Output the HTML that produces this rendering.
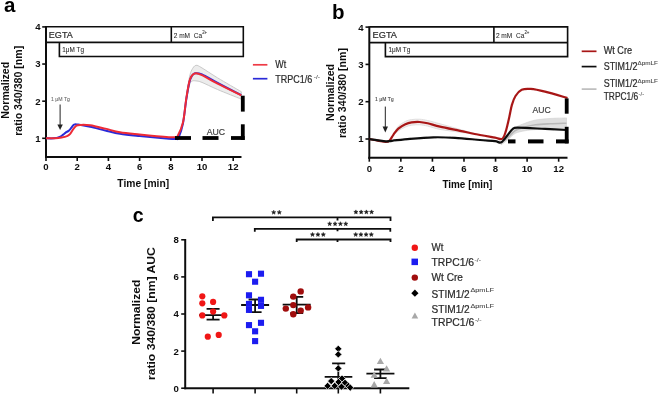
<!DOCTYPE html><html><head><meta charset="utf-8"><style>html,body{margin:0;padding:0;background:#fff;width:660px;height:394px;overflow:hidden}svg{display:block;will-change:transform}text{font-family:"Liberation Sans",sans-serif}</style></head><body>
<svg width="660" height="394" viewBox="0 0 660 394">
<defs><filter id="bl" x="0" y="0" width="660" height="394" filterUnits="userSpaceOnUse"><feGaussianBlur stdDeviation="0.3"/></filter></defs>
<rect width="660" height="394" fill="#fff"/>
<g filter="url(#bl)">
<line x1="46.0" y1="26.109999999999996" x2="46.0" y2="158.0" stroke="#111" stroke-width="2"/>
<line x1="45.0" y1="157.0" x2="241.5" y2="157.0" stroke="#111" stroke-width="2"/>
<line x1="42.2" y1="138.30" x2="46.0" y2="138.30" stroke="#111" stroke-width="1.6"/>
<text x="40.6" y="141.70" font-size="9.6" font-weight="bold" fill="#111" text-anchor="end" >1</text>
<line x1="42.2" y1="101.17" x2="46.0" y2="101.17" stroke="#111" stroke-width="1.6"/>
<text x="40.6" y="104.57" font-size="9.6" font-weight="bold" fill="#111" text-anchor="end" >2</text>
<line x1="42.2" y1="64.04" x2="46.0" y2="64.04" stroke="#111" stroke-width="1.6"/>
<text x="40.6" y="67.44" font-size="9.6" font-weight="bold" fill="#111" text-anchor="end" >3</text>
<line x1="42.2" y1="26.91" x2="46.0" y2="26.91" stroke="#111" stroke-width="1.6"/>
<text x="40.6" y="30.31" font-size="9.6" font-weight="bold" fill="#111" text-anchor="end" >4</text>
<line x1="46.00" y1="157.0" x2="46.00" y2="161.0" stroke="#111" stroke-width="1.6"/>
<text x="46.00" y="170.4" font-size="9.6" font-weight="bold" fill="#111" text-anchor="middle" >0</text>
<line x1="77.20" y1="157.0" x2="77.20" y2="161.0" stroke="#111" stroke-width="1.6"/>
<text x="77.20" y="170.4" font-size="9.6" font-weight="bold" fill="#111" text-anchor="middle" >2</text>
<line x1="108.40" y1="157.0" x2="108.40" y2="161.0" stroke="#111" stroke-width="1.6"/>
<text x="108.40" y="170.4" font-size="9.6" font-weight="bold" fill="#111" text-anchor="middle" >4</text>
<line x1="139.60" y1="157.0" x2="139.60" y2="161.0" stroke="#111" stroke-width="1.6"/>
<text x="139.60" y="170.4" font-size="9.6" font-weight="bold" fill="#111" text-anchor="middle" >6</text>
<line x1="170.80" y1="157.0" x2="170.80" y2="161.0" stroke="#111" stroke-width="1.6"/>
<text x="170.80" y="170.4" font-size="9.6" font-weight="bold" fill="#111" text-anchor="middle" >8</text>
<line x1="202.00" y1="157.0" x2="202.00" y2="161.0" stroke="#111" stroke-width="1.6"/>
<text x="202.00" y="170.4" font-size="9.6" font-weight="bold" fill="#111" text-anchor="middle" >10</text>
<line x1="233.20" y1="157.0" x2="233.20" y2="161.0" stroke="#111" stroke-width="1.6"/>
<text x="233.20" y="170.4" font-size="9.6" font-weight="bold" fill="#111" text-anchor="middle" >12</text>
<text x="117.3" y="186.8" font-size="10.3" font-weight="bold" fill="#111" text-anchor="start" textLength="51.8" lengthAdjust="spacingAndGlyphs" >Time [min]</text>
<text transform="translate(9.3,90.3) rotate(-90)" x="0" y="0" font-size="10.5" font-weight="bold" fill="#111" text-anchor="middle" textLength="57" lengthAdjust="spacingAndGlyphs">Normalized</text>
<text transform="translate(22.3,90.8) rotate(-90)" x="0" y="0" font-size="10.5" font-weight="bold" fill="#111" text-anchor="middle" textLength="90" lengthAdjust="spacingAndGlyphs">ratio 340/380 [nm]</text>
<text x="4.0" y="11.9" font-size="20.5" font-weight="bold" fill="#000" text-anchor="start" >a</text>
<path d="M46,26.8 H243.3 V42.4 H46 M171.3,26.8 V42.4 M59.4,42.4 V56.5 H243.3 V42.4" fill="none" stroke="#111" stroke-width="1.6"/>
<text x="48.8" y="38.3" font-size="9.6" font-weight="normal" fill="#2a2a2a" stroke="#2a2a2a" stroke-width="0.22" text-anchor="start" textLength="24" lengthAdjust="spacingAndGlyphs" >EGTA</text>
<text x="62.3" y="51.9" font-size="6.4" font-weight="normal" fill="#2a2a2a" stroke="#2a2a2a" stroke-width="0.08" text-anchor="start" textLength="21.7" lengthAdjust="spacingAndGlyphs" >1μM Tg</text>
<text x="173.7" y="38.0" font-size="7.6" font-weight="normal" fill="#2a2a2a" stroke="#2a2a2a" stroke-width="0.08" text-anchor="start" textLength="28.4" lengthAdjust="spacingAndGlyphs" >2 mM&#160;&#160;Ca</text>
<text x="202.2" y="34.0" font-size="4.6" font-weight="normal" fill="#2a2a2a" stroke="#2a2a2a" stroke-width="0.08" text-anchor="start" textLength="5" lengthAdjust="spacingAndGlyphs" >2+</text>
<text x="51.0" y="101.0" font-size="4.8" font-weight="normal" fill="#6a6a6a" stroke="#6a6a6a" stroke-width="0.08" text-anchor="start" textLength="19.0" lengthAdjust="spacingAndGlyphs" >1 μM Tg</text>
<line x1="60.1" y1="104.5" x2="60.1" y2="126" stroke="#222" stroke-width="1"/>
<path d="M57.4,124.4 L62.8,124.4 L60.1,130 Z" fill="#222"/>
<path d="M186.24,96.89 C186.76,93.67 188.43,82.10 189.36,77.59 C190.30,73.09 190.77,71.90 191.86,69.86 C192.95,67.82 194.23,65.67 195.92,65.35 C197.61,65.03 198.39,65.85 202.00,67.94 C205.61,70.03 211.05,73.92 217.60,77.88 C224.15,81.84 237.36,89.40 241.31,91.70 L241.31,99.13 C237.36,97.53 224.15,92.34 217.60,89.56 C211.05,86.77 205.61,83.86 202.00,82.42 C198.39,80.98 197.61,81.12 195.92,80.92 C194.23,80.72 192.95,80.46 191.86,81.24 C190.77,82.03 190.30,82.37 189.36,85.61 C188.43,88.86 186.76,98.19 186.24,100.70 Z" fill="#ececec" stroke="#c4c4c4" stroke-width="0.9"/>
<path d="M46.00,138.30 C47.30,138.30 51.51,138.55 53.80,138.30 C56.09,138.05 58.17,137.43 59.73,136.81 C61.29,136.20 62.12,135.33 63.16,134.59 C64.20,133.84 65.06,132.98 65.97,132.36 C66.88,131.74 67.74,131.62 68.62,130.87 C69.50,130.13 70.36,128.96 71.27,127.90 C72.18,126.85 72.96,125.12 74.08,124.56 C75.20,124.00 75.30,124.19 77.98,124.56 C80.66,124.93 85.60,125.80 90.15,126.79 C94.70,127.78 100.31,129.33 105.28,130.50 C110.25,131.68 114.22,132.92 119.94,133.84 C125.66,134.77 131.44,135.27 139.60,136.07 C147.76,136.88 162.82,138.18 168.93,138.67 C175.04,139.17 174.65,139.23 176.26,139.04 C177.87,138.86 177.48,140.16 178.60,137.56 C179.72,134.96 181.69,129.76 182.97,123.45 C184.24,117.14 185.18,106.55 186.24,99.68 C187.31,92.82 188.43,86.19 189.36,82.23 C190.30,78.27 190.92,77.41 191.86,75.92 C192.80,74.44 193.29,73.57 194.98,73.32 C196.67,73.07 198.23,72.83 202.00,74.44 C205.77,76.05 211.05,79.51 217.60,82.98 C224.15,86.44 237.36,93.19 241.31,95.23" fill="none" stroke="#2a2ad8" stroke-width="2.0" stroke-linejoin="round"/>
<path d="M46.00,138.30 C47.56,138.30 52.76,138.42 55.36,138.30 C57.96,138.18 59.65,137.93 61.60,137.56 C63.55,137.19 65.63,136.69 67.06,136.07 C68.49,135.45 69.14,135.02 70.18,133.84 C71.22,132.67 72.26,130.38 73.30,129.02 C74.34,127.66 75.25,126.36 76.42,125.68 C77.59,125.00 78.03,125.00 80.32,124.93 C82.61,124.87 85.99,124.69 90.15,125.30 C94.31,125.92 100.31,127.47 105.28,128.65 C110.25,129.82 114.22,131.37 119.94,132.36 C125.66,133.35 131.44,133.78 139.60,134.59 C147.76,135.39 162.95,136.78 168.93,137.19 C174.91,137.59 174.05,137.12 175.48,137.00 C176.91,136.88 176.26,138.86 177.51,136.44 C178.76,134.03 181.51,128.79 182.97,122.52 C184.42,116.24 185.18,105.61 186.24,98.79 C187.31,91.97 188.43,85.48 189.36,81.60 C190.30,77.73 190.77,76.96 191.86,75.55 C192.95,74.14 194.23,73.20 195.92,73.14 C197.61,73.07 198.39,73.42 202.00,75.18 C205.61,76.94 211.05,80.35 217.60,83.72 C224.15,87.09 237.36,93.47 241.31,95.41" fill="none" stroke="#ee2a36" stroke-width="2.0" stroke-linejoin="round"/>
<rect x="175" y="136.1" width="16" height="3.8" fill="#000"/>
<rect x="202.5" y="136.1" width="16.0" height="3.8" fill="#000"/>
<rect x="231" y="136.1" width="13.699999999999989" height="3.8" fill="#000"/>
<rect x="240.9" y="95.7" width="3.8" height="15.899999999999991" fill="#000"/>
<rect x="240.9" y="124.3" width="3.8" height="15.600000000000009" fill="#000"/>
<text x="206.8" y="135.4" font-size="9.4" font-weight="normal" fill="#444" stroke="#444" stroke-width="0.22" text-anchor="start" textLength="18.3" lengthAdjust="spacingAndGlyphs" >AUC</text>
<line x1="252.9" y1="64.8" x2="267.4" y2="64.8" stroke="#ee3a44" stroke-width="1.7"/>
<line x1="252.9" y1="78.7" x2="267.4" y2="78.7" stroke="#2a2ad8" stroke-width="1.7"/>
<text x="275.3" y="68.2" font-size="10.3" font-weight="normal" fill="#2a2a2a" stroke="#2a2a2a" stroke-width="0.22" text-anchor="start" textLength="10.9" lengthAdjust="spacingAndGlyphs" >Wt</text>
<text x="275.3" y="83.3" font-size="10.3" font-weight="normal" fill="#2a2a2a" stroke="#2a2a2a" stroke-width="0.22" text-anchor="start" textLength="37" lengthAdjust="spacingAndGlyphs" >TRPC1/6</text>
<text x="313.8" y="79.2" font-size="5" font-weight="normal" fill="#555" stroke="#555" stroke-width="0.08" text-anchor="start" textLength="6.2" lengthAdjust="spacingAndGlyphs" >-/-</text>
<line x1="369.3" y1="26.300000000000008" x2="369.3" y2="158.7" stroke="#111" stroke-width="2"/>
<line x1="368.3" y1="157.7" x2="567.5" y2="157.7" stroke="#111" stroke-width="2"/>
<line x1="365.5" y1="139.00" x2="369.3" y2="139.00" stroke="#111" stroke-width="1.6"/>
<text x="363.6" y="142.40" font-size="9.6" font-weight="bold" fill="#111" text-anchor="end" >1</text>
<line x1="365.5" y1="101.70" x2="369.3" y2="101.70" stroke="#111" stroke-width="1.6"/>
<text x="363.6" y="105.10" font-size="9.6" font-weight="bold" fill="#111" text-anchor="end" >2</text>
<line x1="365.5" y1="64.40" x2="369.3" y2="64.40" stroke="#111" stroke-width="1.6"/>
<text x="363.6" y="67.80" font-size="9.6" font-weight="bold" fill="#111" text-anchor="end" >3</text>
<line x1="365.5" y1="27.10" x2="369.3" y2="27.10" stroke="#111" stroke-width="1.6"/>
<text x="363.6" y="30.50" font-size="9.6" font-weight="bold" fill="#111" text-anchor="end" >4</text>
<line x1="369.30" y1="157.7" x2="369.30" y2="161.7" stroke="#111" stroke-width="1.6"/>
<text x="369.30" y="171.6" font-size="9.6" font-weight="bold" fill="#111" text-anchor="middle" >0</text>
<line x1="400.86" y1="157.7" x2="400.86" y2="161.7" stroke="#111" stroke-width="1.6"/>
<text x="400.86" y="171.6" font-size="9.6" font-weight="bold" fill="#111" text-anchor="middle" >2</text>
<line x1="432.42" y1="157.7" x2="432.42" y2="161.7" stroke="#111" stroke-width="1.6"/>
<text x="432.42" y="171.6" font-size="9.6" font-weight="bold" fill="#111" text-anchor="middle" >4</text>
<line x1="463.98" y1="157.7" x2="463.98" y2="161.7" stroke="#111" stroke-width="1.6"/>
<text x="463.98" y="171.6" font-size="9.6" font-weight="bold" fill="#111" text-anchor="middle" >6</text>
<line x1="495.54" y1="157.7" x2="495.54" y2="161.7" stroke="#111" stroke-width="1.6"/>
<text x="495.54" y="171.6" font-size="9.6" font-weight="bold" fill="#111" text-anchor="middle" >8</text>
<line x1="527.10" y1="157.7" x2="527.10" y2="161.7" stroke="#111" stroke-width="1.6"/>
<text x="527.10" y="171.6" font-size="9.6" font-weight="bold" fill="#111" text-anchor="middle" >10</text>
<line x1="558.66" y1="157.7" x2="558.66" y2="161.7" stroke="#111" stroke-width="1.6"/>
<text x="558.66" y="171.6" font-size="9.6" font-weight="bold" fill="#111" text-anchor="middle" >12</text>
<text x="442.4" y="188.4" font-size="10.3" font-weight="bold" fill="#111" text-anchor="start" textLength="50" lengthAdjust="spacingAndGlyphs" >Time [min]</text>
<text transform="translate(334.0,92.5) rotate(-90)" x="0" y="0" font-size="10.5" font-weight="bold" fill="#111" text-anchor="middle" textLength="57" lengthAdjust="spacingAndGlyphs">Normalized</text>
<text transform="translate(345.9,93.0) rotate(-90)" x="0" y="0" font-size="10.5" font-weight="bold" fill="#111" text-anchor="middle" textLength="90" lengthAdjust="spacingAndGlyphs">ratio 340/380 [nm]</text>
<text x="332.0" y="19.0" font-size="20.5" font-weight="bold" fill="#000" text-anchor="start" >b</text>
<path d="M369.4,26.9 H567.6 V42.6 H369.4 M493.9,26.9 V42.6 M385.4,42.6 V56.6 H567.6 V42.6" fill="none" stroke="#111" stroke-width="1.6"/>
<text x="372.6" y="38.1" font-size="9.6" font-weight="normal" fill="#2a2a2a" stroke="#2a2a2a" stroke-width="0.22" text-anchor="start" textLength="24.4" lengthAdjust="spacingAndGlyphs" >EGTA</text>
<text x="388.5" y="52.0" font-size="6.4" font-weight="normal" fill="#2a2a2a" stroke="#2a2a2a" stroke-width="0.08" text-anchor="start" textLength="21.7" lengthAdjust="spacingAndGlyphs" >1μM Tg</text>
<text x="495.9" y="37.8" font-size="7.6" font-weight="normal" fill="#2a2a2a" stroke="#2a2a2a" stroke-width="0.08" text-anchor="start" textLength="28.4" lengthAdjust="spacingAndGlyphs" >2 mM&#160;&#160;Ca</text>
<text x="524.4" y="33.9" font-size="4.6" font-weight="normal" fill="#2a2a2a" stroke="#2a2a2a" stroke-width="0.08" text-anchor="start" textLength="5" lengthAdjust="spacingAndGlyphs" >2+</text>
<text x="375.0" y="101.0" font-size="5.0" font-weight="bold" fill="#5a5a5a" text-anchor="start" textLength="18.8" lengthAdjust="spacingAndGlyphs" >1 μM Tg</text>
<line x1="385.3" y1="106.6" x2="385.3" y2="128" stroke="#222" stroke-width="1"/>
<path d="M382.6,126.6 L388,126.6 L385.3,132.4 Z" fill="#222"/>
<path d="M393.50,133.62 C394.30,132.40 396.32,128.31 398.30,126.28 C400.28,124.24 403.18,122.51 405.40,121.40 C407.62,120.29 409.23,119.97 411.60,119.60 C413.97,119.23 416.93,119.05 419.60,119.20 C422.27,119.35 424.20,119.73 427.60,120.50 C431.00,121.27 434.60,122.32 440.00,123.80 C445.40,125.28 453.33,127.53 460.00,129.40 C466.67,131.27 476.67,134.07 480.00,135.00 L480.00,135.00 C476.67,134.53 466.67,133.13 460.00,132.20 C453.33,131.27 445.40,130.42 440.00,129.40 C434.60,128.38 431.00,126.87 427.60,126.10 C424.20,125.33 422.27,124.95 419.60,124.80 C416.93,124.65 413.97,124.83 411.60,125.20 C409.23,125.57 407.62,126.05 405.40,127.00 C403.18,127.95 400.28,129.49 398.30,130.92 C396.32,132.35 394.30,134.80 393.50,135.58 Z" fill="#f2eaea" stroke="#dcdcdc" stroke-width="0.9"/>
<path d="M501.00,141.90 C502.17,140.81 505.62,137.71 508.00,135.34 C510.38,132.96 512.47,129.66 515.30,127.64 C518.13,125.62 521.62,124.49 525.00,123.22 C528.38,121.95 531.43,120.80 535.60,120.01 C539.77,119.23 544.85,118.85 550.00,118.50 C555.15,118.15 563.75,118.00 566.50,117.90 L566.50,128.50 C563.75,128.60 555.15,128.92 550.00,129.10 C544.85,129.28 539.77,129.31 535.60,129.59 C531.43,129.87 528.38,130.15 525.00,130.78 C521.62,131.41 518.13,131.88 515.30,133.36 C512.47,134.84 510.38,137.74 508.00,139.66 C505.62,141.59 502.17,144.03 501.00,144.90 Z" fill="#dedede" stroke="#d0d0d0" stroke-width="0.6"/>
<path d="M501.00,143.40 C502.17,142.42 505.62,139.65 508.00,137.50 C510.38,135.35 512.47,132.25 515.30,130.50 C518.13,128.75 521.62,127.95 525.00,127.00 C528.38,126.05 531.43,125.33 535.60,124.80 C539.77,124.27 544.85,124.07 550.00,123.80 C555.15,123.53 563.75,123.30 566.50,123.20" fill="none" stroke="#b8b8b8" stroke-width="1.6"/>
<path d="M369.30,139.00 C370.75,139.27 375.27,140.10 378.00,140.60 C380.73,141.10 383.80,141.97 385.70,142.00 C387.60,142.03 388.10,142.03 389.40,140.80 C390.70,139.57 392.02,136.63 393.50,134.60 C394.98,132.57 396.32,130.33 398.30,128.60 C400.28,126.87 403.18,125.23 405.40,124.20 C407.62,123.17 409.23,122.77 411.60,122.40 C413.97,122.03 416.93,121.85 419.60,122.00 C422.27,122.15 424.20,122.53 427.60,123.30 C431.00,124.07 434.60,125.35 440.00,126.60 C445.40,127.85 453.33,129.40 460.00,130.80 C466.67,132.20 474.17,133.87 480.00,135.00 C485.83,136.13 491.32,136.95 495.00,137.60 C498.68,138.25 500.32,139.90 502.10,138.90 C503.88,137.90 504.52,135.18 505.70,131.60 C506.88,128.02 508.17,121.85 509.20,117.40 C510.23,112.95 510.85,108.47 511.90,104.90 C512.95,101.33 513.87,98.52 515.50,96.00 C517.13,93.48 519.18,90.98 521.70,89.80 C524.22,88.62 526.72,88.60 530.60,88.90 C534.48,89.20 538.85,90.08 545.00,91.60 C551.15,93.12 563.75,96.93 567.50,98.00" fill="none" stroke="#a81818" stroke-width="2.2" stroke-linejoin="round"/>
<path d="M369.30,139.20 C370.75,139.40 375.22,140.05 378.00,140.40 C380.78,140.75 383.67,141.23 386.00,141.30 C388.33,141.37 388.00,141.22 392.00,140.80 C396.00,140.38 403.12,139.38 410.00,138.80 C416.88,138.22 425.80,137.47 433.30,137.30 C440.80,137.13 447.22,137.35 455.00,137.80 C462.78,138.25 473.33,139.43 480.00,140.00 C486.67,140.57 491.47,140.82 495.00,141.20 C498.53,141.58 499.12,143.30 501.20,142.30 C503.28,141.30 505.57,137.43 507.50,135.20 C509.43,132.97 511.03,130.15 512.80,128.90 C514.57,127.65 512.73,127.70 518.10,127.70 C523.47,127.70 536.93,128.52 545.00,128.90 C553.07,129.28 562.92,129.82 566.50,130.00" fill="none" stroke="#111" stroke-width="2.2" stroke-linejoin="round"/>
<rect x="508" y="139.4" width="7.5" height="4" fill="#000"/>
<rect x="528" y="139.4" width="15.5" height="4" fill="#000"/>
<rect x="556" y="139.4" width="12.600000000000023" height="4" fill="#000"/>
<rect x="564.8" y="98.4" width="3.8" height="15.299999999999997" fill="#000"/>
<rect x="564.8" y="126.8" width="3.8" height="16.60000000000001" fill="#000"/>
<text x="532.6" y="112.7" font-size="9.4" font-weight="normal" fill="#444" stroke="#444" stroke-width="0.22" text-anchor="start" textLength="18.2" lengthAdjust="spacingAndGlyphs" >AUC</text>
<line x1="581.7" y1="51.3" x2="596.5" y2="51.3" stroke="#a81818" stroke-width="1.7"/>
<line x1="581.7" y1="66.6" x2="596.5" y2="66.6" stroke="#111" stroke-width="1.7"/>
<line x1="581.7" y1="89.1" x2="596.5" y2="89.1" stroke="#b4b4b4" stroke-width="1.5"/>
<text x="603.7" y="53.8" font-size="10.3" font-weight="normal" fill="#2a2a2a" stroke="#2a2a2a" stroke-width="0.22" text-anchor="start" textLength="28.4" lengthAdjust="spacingAndGlyphs" >Wt Cre</text>
<text x="603.7" y="70.0" font-size="10.3" font-weight="normal" fill="#2a2a2a" stroke="#2a2a2a" stroke-width="0.22" text-anchor="start" textLength="33.8" lengthAdjust="spacingAndGlyphs" >STIM1/2</text>
<text x="637.6" y="64.6" font-size="5.6" font-weight="normal" fill="#444" stroke="#444" stroke-width="0.08" text-anchor="start" textLength="20.3" lengthAdjust="spacingAndGlyphs" >ΔpmLF</text>
<text x="603.7" y="87.4" font-size="10.3" font-weight="normal" fill="#2a2a2a" stroke="#2a2a2a" stroke-width="0.22" text-anchor="start" textLength="33.8" lengthAdjust="spacingAndGlyphs" >STIM1/2</text>
<text x="637.6" y="82.7" font-size="5.6" font-weight="normal" fill="#444" stroke="#444" stroke-width="0.08" text-anchor="start" textLength="20.3" lengthAdjust="spacingAndGlyphs" >ΔpmLF</text>
<text x="603.7" y="99.8" font-size="10.3" font-weight="normal" fill="#2a2a2a" stroke="#2a2a2a" stroke-width="0.22" text-anchor="start" textLength="34.6" lengthAdjust="spacingAndGlyphs" >TRPC1/6</text>
<text x="638.6" y="95.9" font-size="5" font-weight="normal" fill="#555" stroke="#555" stroke-width="0.08" text-anchor="start" textLength="5.5" lengthAdjust="spacingAndGlyphs" >-/-</text>
<line x1="185.2" y1="239.00" x2="185.2" y2="389.2" stroke="#111" stroke-width="2"/>
<line x1="184.2" y1="388.2" x2="409.3" y2="388.2" stroke="#111" stroke-width="2"/>
<line x1="181.2" y1="388.20" x2="185.2" y2="388.20" stroke="#111" stroke-width="1.6"/>
<text x="178.9" y="391.60" font-size="9.6" font-weight="bold" fill="#111" text-anchor="end" >0</text>
<line x1="181.2" y1="351.10" x2="185.2" y2="351.10" stroke="#111" stroke-width="1.6"/>
<text x="178.9" y="354.50" font-size="9.6" font-weight="bold" fill="#111" text-anchor="end" >2</text>
<line x1="181.2" y1="314.00" x2="185.2" y2="314.00" stroke="#111" stroke-width="1.6"/>
<text x="178.9" y="317.40" font-size="9.6" font-weight="bold" fill="#111" text-anchor="end" >4</text>
<line x1="181.2" y1="276.90" x2="185.2" y2="276.90" stroke="#111" stroke-width="1.6"/>
<text x="178.9" y="280.30" font-size="9.6" font-weight="bold" fill="#111" text-anchor="end" >6</text>
<line x1="181.2" y1="239.80" x2="185.2" y2="239.80" stroke="#111" stroke-width="1.6"/>
<text x="178.9" y="243.20" font-size="9.6" font-weight="bold" fill="#111" text-anchor="end" >8</text>
<line x1="213.1" y1="388.2" x2="213.1" y2="393.5" stroke="#111" stroke-width="1.6"/>
<line x1="255.1" y1="388.2" x2="255.1" y2="393.5" stroke="#111" stroke-width="1.6"/>
<line x1="296.7" y1="388.2" x2="296.7" y2="393.5" stroke="#111" stroke-width="1.6"/>
<line x1="338.3" y1="388.2" x2="338.3" y2="393.5" stroke="#111" stroke-width="1.6"/>
<line x1="380.4" y1="388.2" x2="380.4" y2="393.5" stroke="#111" stroke-width="1.6"/>
<text transform="translate(140.2,312.2) rotate(-90)" font-size="11.1" font-weight="bold" fill="#111" text-anchor="middle" textLength="65" lengthAdjust="spacingAndGlyphs">Normalized</text>
<text transform="translate(155.3,313.6) rotate(-90)" font-size="11" font-weight="bold" fill="#111" text-anchor="middle" textLength="133" lengthAdjust="spacingAndGlyphs">ratio 340/380 [nm] AUC</text>
<text x="132.8" y="222.1" font-size="19.5" font-weight="bold" fill="#000" text-anchor="start" >c</text>
<path d="M212.9,221 V217.3 H390.5 V221 M337.5,217.3 V220.5" fill="none" stroke="#111" stroke-width="1.8"/>
<path d="M254.8,231.8 V228.8 H390.3 V231.8 M337.5,228.8 V231.3" fill="none" stroke="#111" stroke-width="1.8"/>
<path d="M296.7,242 V239.5 H390.5 V242 M337.5,239.5 V242" fill="none" stroke="#111" stroke-width="1.8"/>
<path d="M273.70,210.20 L274.26,211.63 L275.79,211.72 L274.60,212.69 L274.99,214.18 L273.70,213.35 L272.41,214.18 L272.80,212.69 L271.61,211.72 L273.14,211.63 Z" fill="#1a1a1a" stroke="#1a1a1a" stroke-width="0.5" stroke-linejoin="round"/>
<path d="M279.30,210.20 L279.86,211.63 L281.39,211.72 L280.20,212.69 L280.59,214.18 L279.30,213.35 L278.01,214.18 L278.40,212.69 L277.21,211.72 L278.74,211.63 Z" fill="#1a1a1a" stroke="#1a1a1a" stroke-width="0.5" stroke-linejoin="round"/>
<path d="M355.90,209.90 L356.46,211.33 L357.99,211.42 L356.80,212.39 L357.19,213.88 L355.90,213.05 L354.61,213.88 L355.00,212.39 L353.81,211.42 L355.34,211.33 Z" fill="#1a1a1a" stroke="#1a1a1a" stroke-width="0.5" stroke-linejoin="round"/>
<path d="M361.13,209.90 L361.69,211.33 L363.23,211.42 L362.04,212.39 L362.43,213.88 L361.13,213.05 L359.84,213.88 L360.23,212.39 L359.04,211.42 L360.57,211.33 Z" fill="#1a1a1a" stroke="#1a1a1a" stroke-width="0.5" stroke-linejoin="round"/>
<path d="M366.37,209.90 L366.93,211.33 L368.46,211.42 L367.27,212.39 L367.66,213.88 L366.37,213.05 L365.07,213.88 L365.46,212.39 L364.27,211.42 L365.81,211.33 Z" fill="#1a1a1a" stroke="#1a1a1a" stroke-width="0.5" stroke-linejoin="round"/>
<path d="M371.60,209.90 L372.16,211.33 L373.69,211.42 L372.50,212.39 L372.89,213.88 L371.60,213.05 L370.31,213.88 L370.70,212.39 L369.51,211.42 L371.04,211.33 Z" fill="#1a1a1a" stroke="#1a1a1a" stroke-width="0.5" stroke-linejoin="round"/>
<path d="M329.70,221.70 L330.26,223.13 L331.79,223.22 L330.60,224.19 L330.99,225.68 L329.70,224.85 L328.41,225.68 L328.80,224.19 L327.61,223.22 L329.14,223.13 Z" fill="#1a1a1a" stroke="#1a1a1a" stroke-width="0.5" stroke-linejoin="round"/>
<path d="M335.07,221.70 L335.63,223.13 L337.16,223.22 L335.97,224.19 L336.36,225.68 L335.07,224.85 L333.77,225.68 L334.16,224.19 L332.97,223.22 L334.51,223.13 Z" fill="#1a1a1a" stroke="#1a1a1a" stroke-width="0.5" stroke-linejoin="round"/>
<path d="M340.43,221.70 L340.99,223.13 L342.53,223.22 L341.34,224.19 L341.73,225.68 L340.43,224.85 L339.14,225.68 L339.53,224.19 L338.34,223.22 L339.87,223.13 Z" fill="#1a1a1a" stroke="#1a1a1a" stroke-width="0.5" stroke-linejoin="round"/>
<path d="M345.80,221.70 L346.36,223.13 L347.89,223.22 L346.70,224.19 L347.09,225.68 L345.80,224.85 L344.51,225.68 L344.90,224.19 L343.71,223.22 L345.24,223.13 Z" fill="#1a1a1a" stroke="#1a1a1a" stroke-width="0.5" stroke-linejoin="round"/>
<path d="M312.50,232.40 L313.06,233.83 L314.59,233.92 L313.40,234.89 L313.79,236.38 L312.50,235.55 L311.21,236.38 L311.60,234.89 L310.41,233.92 L311.94,233.83 Z" fill="#1a1a1a" stroke="#1a1a1a" stroke-width="0.5" stroke-linejoin="round"/>
<path d="M317.90,232.40 L318.46,233.83 L319.99,233.92 L318.80,234.89 L319.19,236.38 L317.90,235.55 L316.61,236.38 L317.00,234.89 L315.81,233.92 L317.34,233.83 Z" fill="#1a1a1a" stroke="#1a1a1a" stroke-width="0.5" stroke-linejoin="round"/>
<path d="M323.30,232.40 L323.86,233.83 L325.39,233.92 L324.20,234.89 L324.59,236.38 L323.30,235.55 L322.01,236.38 L322.40,234.89 L321.21,233.92 L322.74,233.83 Z" fill="#1a1a1a" stroke="#1a1a1a" stroke-width="0.5" stroke-linejoin="round"/>
<path d="M355.70,232.40 L356.26,233.83 L357.79,233.92 L356.60,234.89 L356.99,236.38 L355.70,235.55 L354.41,236.38 L354.80,234.89 L353.61,233.92 L355.14,233.83 Z" fill="#1a1a1a" stroke="#1a1a1a" stroke-width="0.5" stroke-linejoin="round"/>
<path d="M360.90,232.40 L361.46,233.83 L362.99,233.92 L361.80,234.89 L362.19,236.38 L360.90,235.55 L359.61,236.38 L360.00,234.89 L358.81,233.92 L360.34,233.83 Z" fill="#1a1a1a" stroke="#1a1a1a" stroke-width="0.5" stroke-linejoin="round"/>
<path d="M366.10,232.40 L366.66,233.83 L368.19,233.92 L367.00,234.89 L367.39,236.38 L366.10,235.55 L364.81,236.38 L365.20,234.89 L364.01,233.92 L365.54,233.83 Z" fill="#1a1a1a" stroke="#1a1a1a" stroke-width="0.5" stroke-linejoin="round"/>
<path d="M371.30,232.40 L371.86,233.83 L373.39,233.92 L372.20,234.89 L372.59,236.38 L371.30,235.55 L370.01,236.38 L370.40,234.89 L369.21,233.92 L370.74,233.83 Z" fill="#1a1a1a" stroke="#1a1a1a" stroke-width="0.5" stroke-linejoin="round"/>
<path d="M199.1,315.1 H227.1 M206.6,308.8 H219.6 M206.6,319.6 H219.6 M213.1,308.8 V319.6" fill="none" stroke="#111" stroke-width="1.8"/>
<path d="M241.1,305.0 H269.1 M248.6,299.5 H261.6 M248.6,312.2 H261.6 M255.1,299.5 V312.2" fill="none" stroke="#111" stroke-width="1.8"/>
<path d="M282.7,304.6 H310.7 M290.2,296.9 H303.2 M290.2,313.1 H303.2 M296.7,296.9 V313.1" fill="none" stroke="#111" stroke-width="1.8"/>
<path d="M324.7,376.8 H352.3 M332.1,363.3 H345.2 M338.3,363.3 V388" fill="none" stroke="#111" stroke-width="1.8"/>
<path d="M366.4,373.6 H394.4 M374.09999999999997,369.5 H386.7 M374.09999999999997,378.1 H386.7 M380.4,369.5 V378.1" fill="none" stroke="#111" stroke-width="1.8"/>
<circle cx="202.3" cy="296.3" r="3.1" fill="#f01818"/>
<circle cx="202.3" cy="303.3" r="3.1" fill="#f01818"/>
<circle cx="213.1" cy="301.9" r="3.1" fill="#f01818"/>
<circle cx="213.1" cy="311.6" r="3.1" fill="#f01818"/>
<circle cx="202.3" cy="315.4" r="3.1" fill="#f01818"/>
<circle cx="224.3" cy="315.4" r="3.1" fill="#f01818"/>
<circle cx="207.8" cy="336.7" r="3.1" fill="#f01818"/>
<circle cx="218.7" cy="334.9" r="3.1" fill="#f01818"/>
<rect x="245.95" y="271.15" width="6.1" height="6.1" fill="#1c1cf0"/>
<rect x="257.95" y="270.65" width="6.1" height="6.1" fill="#1c1cf0"/>
<rect x="252.04999999999998" y="278.65" width="6.1" height="6.1" fill="#1c1cf0"/>
<rect x="245.95" y="292.25" width="6.1" height="6.1" fill="#1c1cf0"/>
<rect x="257.95" y="296.75" width="6.1" height="6.1" fill="#1c1cf0"/>
<rect x="245.95" y="300.84999999999997" width="6.1" height="6.1" fill="#1c1cf0"/>
<rect x="257.95" y="302.84999999999997" width="6.1" height="6.1" fill="#1c1cf0"/>
<rect x="245.95" y="306.84999999999997" width="6.1" height="6.1" fill="#1c1cf0"/>
<rect x="245.95" y="322.05" width="6.1" height="6.1" fill="#1c1cf0"/>
<rect x="257.95" y="319.75" width="6.1" height="6.1" fill="#1c1cf0"/>
<rect x="252.04999999999998" y="328.25" width="6.1" height="6.1" fill="#1c1cf0"/>
<rect x="252.04999999999998" y="338.05" width="6.1" height="6.1" fill="#1c1cf0"/>
<circle cx="300.7" cy="291.4" r="3.2" fill="#a00c0c"/>
<circle cx="293.3" cy="296.6" r="3.2" fill="#a00c0c"/>
<circle cx="293.3" cy="305.1" r="3.2" fill="#a00c0c"/>
<circle cx="285.8" cy="308.6" r="3.2" fill="#a00c0c"/>
<circle cx="308.1" cy="307.4" r="3.2" fill="#a00c0c"/>
<circle cx="300.7" cy="310.6" r="3.2" fill="#a00c0c"/>
<circle cx="293.3" cy="314.3" r="3.2" fill="#a00c0c"/>
<path d="M338.3,345.2 L341.90000000000003,348.8 L338.3,352.40000000000003 L334.7,348.8 Z" fill="#000" stroke="#fff" stroke-width="0.7"/>
<path d="M338.3,350.79999999999995 L341.90000000000003,354.4 L338.3,358.0 L334.7,354.4 Z" fill="#000" stroke="#fff" stroke-width="0.7"/>
<path d="M338.3,364.79999999999995 L341.90000000000003,368.4 L338.3,372.0 L334.7,368.4 Z" fill="#000" stroke="#fff" stroke-width="0.7"/>
<path d="M331.2,377.5 L334.8,381.1 L331.2,384.70000000000005 L327.59999999999997,381.1 Z" fill="#000" stroke="#fff" stroke-width="0.7"/>
<path d="M342,374.9 L345.6,378.5 L342,382.1 L338.4,378.5 Z" fill="#000" stroke="#fff" stroke-width="0.7"/>
<path d="M338.5,378.4 L342.1,382 L338.5,385.6 L334.9,382 Z" fill="#000" stroke="#fff" stroke-width="0.7"/>
<path d="M345,379.2 L348.6,382.8 L345,386.40000000000003 L341.4,382.8 Z" fill="#000" stroke="#fff" stroke-width="0.7"/>
<path d="M327.6,382.29999999999995 L331.20000000000005,385.9 L327.6,389.5 L324.0,385.9 Z" fill="#000" stroke="#fff" stroke-width="0.7"/>
<path d="M334.7,382.29999999999995 L338.3,385.9 L334.7,389.5 L331.09999999999997,385.9 Z" fill="#000" stroke="#fff" stroke-width="0.7"/>
<path d="M341.5,383.09999999999997 L345.1,386.7 L341.5,390.3 L337.9,386.7 Z" fill="#000" stroke="#fff" stroke-width="0.7"/>
<path d="M348.4,382.29999999999995 L352.0,385.9 L348.4,389.5 L344.79999999999995,385.9 Z" fill="#000" stroke="#fff" stroke-width="0.7"/>
<path d="M350.2,384.0 L353.8,387.6 L350.2,391.20000000000005 L346.59999999999997,387.6 Z" fill="#000" stroke="#fff" stroke-width="0.7"/>
<path d="M380.4,357.8 L384.0,364.1 L376.79999999999995,364.1 Z" fill="#a8a8a8"/>
<path d="M386.6,365.3 L390.20000000000005,371.6 L383.0,371.6 Z" fill="#a8a8a8"/>
<path d="M374.2,371.5 L377.8,377.8 L370.59999999999997,377.8 Z" fill="#a8a8a8"/>
<path d="M386.6,377.7 L390.20000000000005,384.0 L383.0,384.0 Z" fill="#a8a8a8"/>
<path d="M374.2,381.1 L377.8,387.40000000000003 L370.59999999999997,387.40000000000003 Z" fill="#a8a8a8"/>
<circle cx="414.8" cy="247.8" r="3.2" fill="#f01818"/>
<rect x="411.5" y="258.6" width="6.5" height="6.5" fill="#1c1cf0"/>
<circle cx="414.8" cy="277.6" r="3.2" fill="#a00c0c"/>
<path d="M414.9,289.6 L418.5,293.2 L414.9,296.8 L411.3,293.2 Z" fill="#000"/>
<path d="M414.9,312.5 L418.2,318.6 L411.6,318.6 Z" fill="#a8a8a8"/>
<text x="431.5" y="251.0" font-size="10.4" font-weight="normal" fill="#2a2a2a" stroke="#2a2a2a" stroke-width="0.22" text-anchor="start" textLength="11.9" lengthAdjust="spacingAndGlyphs" >Wt</text>
<text x="431.5" y="266.4" font-size="10.4" font-weight="normal" fill="#2a2a2a" stroke="#2a2a2a" stroke-width="0.22" text-anchor="start" textLength="42.6" lengthAdjust="spacingAndGlyphs" >TRPC1/6</text>
<text x="474.6" y="262.2" font-size="5.2" font-weight="normal" fill="#555" stroke="#555" stroke-width="0.08" text-anchor="start" textLength="6.4" lengthAdjust="spacingAndGlyphs" >-/-</text>
<text x="431.5" y="281.0" font-size="10.4" font-weight="normal" fill="#2a2a2a" stroke="#2a2a2a" stroke-width="0.22" text-anchor="start" textLength="31.4" lengthAdjust="spacingAndGlyphs" >Wt Cre</text>
<text x="431.6" y="297.5" font-size="10.4" font-weight="normal" fill="#2a2a2a" stroke="#2a2a2a" stroke-width="0.22" text-anchor="start" textLength="38.1" lengthAdjust="spacingAndGlyphs" >STIM1/2</text>
<text x="470.4" y="292.4" font-size="5.8" font-weight="normal" fill="#444" stroke="#444" stroke-width="0.08" text-anchor="start" textLength="23.6" lengthAdjust="spacingAndGlyphs" >ΔpmLF</text>
<text x="431.6" y="312.7" font-size="10.4" font-weight="normal" fill="#2a2a2a" stroke="#2a2a2a" stroke-width="0.22" text-anchor="start" textLength="38.1" lengthAdjust="spacingAndGlyphs" >STIM1/2</text>
<text x="470.4" y="307.6" font-size="5.8" font-weight="normal" fill="#444" stroke="#444" stroke-width="0.08" text-anchor="start" textLength="23.6" lengthAdjust="spacingAndGlyphs" >ΔpmLF</text>
<text x="431.6" y="326.4" font-size="10.4" font-weight="normal" fill="#2a2a2a" stroke="#2a2a2a" stroke-width="0.22" text-anchor="start" textLength="42.7" lengthAdjust="spacingAndGlyphs" >TRPC1/6</text>
<text x="475.0" y="322.2" font-size="5.2" font-weight="normal" fill="#555" stroke="#555" stroke-width="0.08" text-anchor="start" textLength="6.4" lengthAdjust="spacingAndGlyphs" >-/-</text>
</g></svg></body></html>
